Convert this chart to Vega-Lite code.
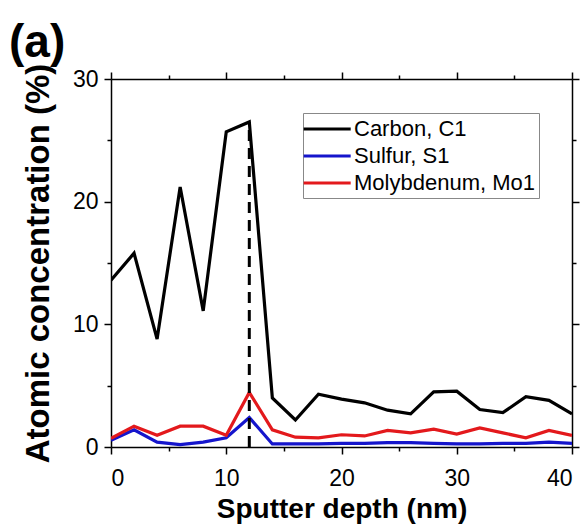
{
  "$schema": "https://vega.github.io/schema/vega-lite/v6.json",
  "autosize": "none",
  "width": 461,
  "height": 368,
  "padding": {"left": 111, "top": 79, "right": 15, "bottom": 80},
  "background": "white",
  "config": {
    "font": "Liberation Sans",
    "view": {"stroke": null},
    "axis": {"grid": false, "domainColor": "black", "domainWidth": 1.5, "tickColor": "black", "tickWidth": 1.5, "labelColor": "black", "titleColor": "black"}
  },
  "title": {"text": "(a)", "anchor": "start", "frame": "group", "fontSize": 46, "fontWeight": "bold", "dx": -102, "dy": 9, "offset": 5, "color": "black"},
  "datasets": {
    "conc": [
      {"depth": 0, "element": "Carbon, C1", "value": 13.6},
      {"depth": 2, "element": "Carbon, C1", "value": 15.8},
      {"depth": 4, "element": "Carbon, C1", "value": 8.8},
      {"depth": 6, "element": "Carbon, C1", "value": 21.2},
      {"depth": 8, "element": "Carbon, C1", "value": 11.1},
      {"depth": 10, "element": "Carbon, C1", "value": 25.7},
      {"depth": 12, "element": "Carbon, C1", "value": 26.5},
      {"depth": 14, "element": "Carbon, C1", "value": 4.0},
      {"depth": 16, "element": "Carbon, C1", "value": 2.2},
      {"depth": 18, "element": "Carbon, C1", "value": 4.3},
      {"depth": 20, "element": "Carbon, C1", "value": 3.9},
      {"depth": 22, "element": "Carbon, C1", "value": 3.6},
      {"depth": 24, "element": "Carbon, C1", "value": 3.0},
      {"depth": 26, "element": "Carbon, C1", "value": 2.7},
      {"depth": 28, "element": "Carbon, C1", "value": 4.5},
      {"depth": 30, "element": "Carbon, C1", "value": 4.55},
      {"depth": 32, "element": "Carbon, C1", "value": 3.05},
      {"depth": 34, "element": "Carbon, C1", "value": 2.8},
      {"depth": 36, "element": "Carbon, C1", "value": 4.1},
      {"depth": 38, "element": "Carbon, C1", "value": 3.8},
      {"depth": 40, "element": "Carbon, C1", "value": 2.7},
      {"depth": 0, "element": "Sulfur, S1", "value": 0.55},
      {"depth": 2, "element": "Sulfur, S1", "value": 1.4},
      {"depth": 4, "element": "Sulfur, S1", "value": 0.4},
      {"depth": 6, "element": "Sulfur, S1", "value": 0.2},
      {"depth": 8, "element": "Sulfur, S1", "value": 0.4},
      {"depth": 10, "element": "Sulfur, S1", "value": 0.75},
      {"depth": 12, "element": "Sulfur, S1", "value": 2.4},
      {"depth": 14, "element": "Sulfur, S1", "value": 0.25},
      {"depth": 16, "element": "Sulfur, S1", "value": 0.25},
      {"depth": 18, "element": "Sulfur, S1", "value": 0.25},
      {"depth": 20, "element": "Sulfur, S1", "value": 0.3},
      {"depth": 22, "element": "Sulfur, S1", "value": 0.3},
      {"depth": 24, "element": "Sulfur, S1", "value": 0.35},
      {"depth": 26, "element": "Sulfur, S1", "value": 0.35},
      {"depth": 28, "element": "Sulfur, S1", "value": 0.3},
      {"depth": 30, "element": "Sulfur, S1", "value": 0.25},
      {"depth": 32, "element": "Sulfur, S1", "value": 0.25},
      {"depth": 34, "element": "Sulfur, S1", "value": 0.3},
      {"depth": 36, "element": "Sulfur, S1", "value": 0.3},
      {"depth": 38, "element": "Sulfur, S1", "value": 0.4},
      {"depth": 40, "element": "Sulfur, S1", "value": 0.3},
      {"depth": 0, "element": "Molybdenum, Mo1", "value": 0.7},
      {"depth": 2, "element": "Molybdenum, Mo1", "value": 1.7},
      {"depth": 4, "element": "Molybdenum, Mo1", "value": 0.95},
      {"depth": 6, "element": "Molybdenum, Mo1", "value": 1.7},
      {"depth": 8, "element": "Molybdenum, Mo1", "value": 1.7},
      {"depth": 10, "element": "Molybdenum, Mo1", "value": 0.95},
      {"depth": 12, "element": "Molybdenum, Mo1", "value": 4.45},
      {"depth": 14, "element": "Molybdenum, Mo1", "value": 1.4},
      {"depth": 16, "element": "Molybdenum, Mo1", "value": 0.8},
      {"depth": 18, "element": "Molybdenum, Mo1", "value": 0.75},
      {"depth": 20, "element": "Molybdenum, Mo1", "value": 1.0},
      {"depth": 22, "element": "Molybdenum, Mo1", "value": 0.9},
      {"depth": 24, "element": "Molybdenum, Mo1", "value": 1.35},
      {"depth": 26, "element": "Molybdenum, Mo1", "value": 1.15},
      {"depth": 28, "element": "Molybdenum, Mo1", "value": 1.45},
      {"depth": 30, "element": "Molybdenum, Mo1", "value": 1.05},
      {"depth": 32, "element": "Molybdenum, Mo1", "value": 1.55},
      {"depth": 34, "element": "Molybdenum, Mo1", "value": 1.15},
      {"depth": 36, "element": "Molybdenum, Mo1", "value": 0.75},
      {"depth": 38, "element": "Molybdenum, Mo1", "value": 1.35},
      {"depth": 40, "element": "Molybdenum, Mo1", "value": 0.95}
    ],
    "marker": [{"depth": 12, "low": 0, "high": 26.5}]
  },
  "layer": [
    {
      "data": {"name": "conc"},
      "mark": {"type": "line", "strokeWidth": 3.2, "clip": true},
      "encoding": {
        "x": {"field": "depth", "type": "quantitative", "scale": {"domain": [0, 40], "nice": false, "zero": false},
          "axis": {"orient": "bottom", "values": [0, 5, 10, 15, 20, 25, 30, 35, 40], "labelExpr": "datum.value % 10 === 0 ? datum.label : ''",
            "tickSize": {"condition": {"test": "datum.value % 10 === 0", "value": 7}, "value": 4},
            "labelFontSize": 23, "labelPadding": 13, "title": "Sputter depth (nm)", "titleFontSize": 28, "titleFontWeight": "bold", "titlePadding": 5}},
        "y": {"field": "value", "type": "quantitative", "scale": {"domain": [0, 30], "nice": false},
          "axis": {"orient": "left", "values": [0, 5, 10, 15, 20, 25, 30], "labelExpr": "datum.value % 10 === 0 ? datum.label : ''",
            "tickSize": {"condition": {"test": "datum.value % 10 === 0", "value": 7}, "value": 4},
            "labelFontSize": 23, "labelPadding": 6, "title": "Atomic concentration (%)", "titleFontSize": 33, "titleFontWeight": "bold", "titlePadding": 17}},
        "color": {"field": "element", "type": "nominal",
          "scale": {"domain": ["Carbon, C1", "Sulfur, S1", "Molybdenum, Mo1"], "range": ["#000000", "#1515cc", "#e3191c"]},
          "legend": {"title": null, "orient": "none", "legendX": 192, "legendY": 34, "symbolType": "M-1.5,0H3.1", "symbolSize": 418, "symbolStrokeWidth": 3,
            "labelFontSize": 22, "labelLimit": 0, "labelColor": "black", "labelOffset": 23, "rowPadding": 4, "padding": 4, "strokeColor": "#888888", "fillColor": "white"}}
      }
    },
    {
      "data": {"name": "marker"},
      "mark": {"type": "rule", "strokeWidth": 3, "strokeDash": [11, 7], "color": "black"},
      "encoding": {
        "x": {"field": "depth", "type": "quantitative",
          "axis": {"orient": "top", "values": [0, 5, 10, 15, 20, 25, 30, 35, 40], "labels": false, "title": null,
            "tickSize": {"condition": {"test": "datum.value % 10 === 0", "value": 7}, "value": 4}}},
        "y": {"field": "low", "type": "quantitative",
          "axis": {"orient": "right", "values": [0, 5, 10, 15, 20, 25, 30], "labels": false, "title": null,
            "tickSize": {"condition": {"test": "datum.value % 10 === 0", "value": 7}, "value": 4}}},
        "y2": {"field": "high"}
      }
    }
  ],
  "resolve": {"axis": {"x": "independent", "y": "independent"}}
}
